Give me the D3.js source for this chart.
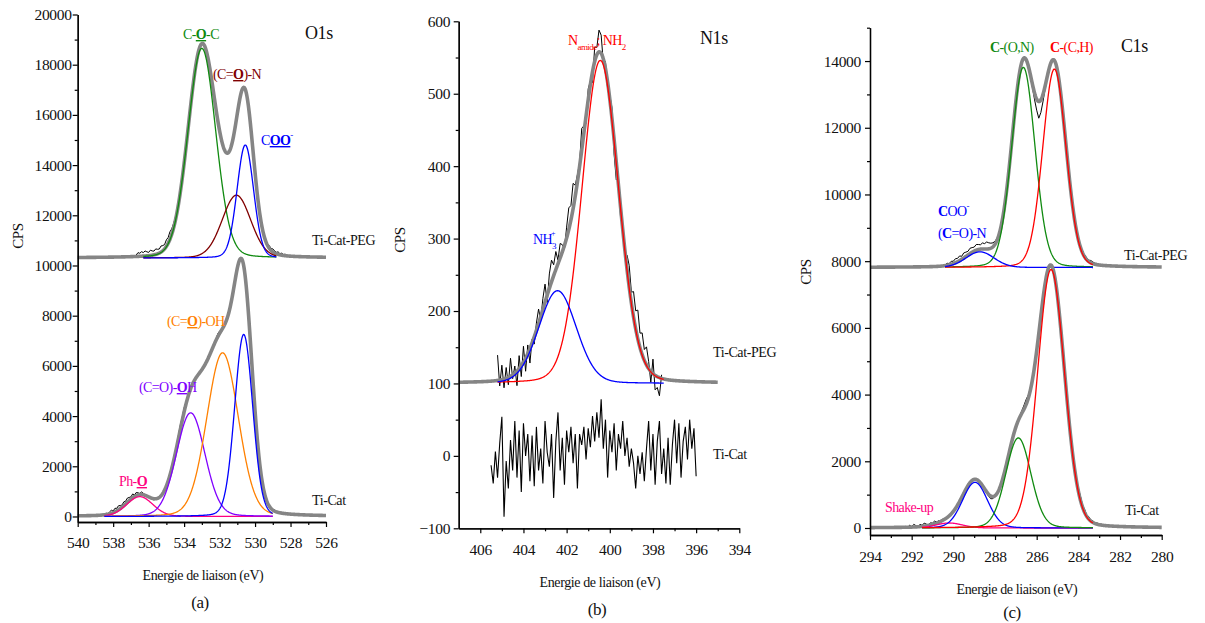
<!DOCTYPE html>
<html><head><meta charset="utf-8">
<script src="https://cdn.jsdelivr.net/npm/d3@7"></script>
<style>
body{margin:0;background:#fff}
svg{display:block}
text{font-family:"Liberation Serif","Times New Roman",serif}
</style>
</head><body>
<svg id="chart" width="1205" height="623"></svg>
<script>
// ================= DATA =================
// ---- Panel (a) O1s ----
const o1sEnergyTicks = [540,538,536,534,532,530,528,526];
const o1sEnergyMinor = [539,537,535,533,531,529,527];
const o1sCpsTicks = [0,2000,4000,6000,8000,10000,12000,14000,16000,18000,20000];
const o1sCpsMinor = [1000,3000,5000,7000,9000,11000,13000,15000,17000,19000];
// Ti-Cat-PEG components: C-O-C, (C=O)-N, COO-
const o1sPegBaseline = 10300;
const o1sPegCenters = [533.0, 531.05, 530.55];
const o1sPegHeights = [8350, 2500, 4500];
const o1sPegFwhm = [1.85, 1.9, 1.1];
const o1sPegResidualStart = 536.7;
const o1sPegResiduals = [60,150,120,180,140,200,160,130,210,170,150,220,180,160,240,200,170,260,230,300,220,180,120,
 80,40,-20,30,-30,20,40,-10,30,60,90,120,80,40,0,-40,-60,-30,-50,-20,0,30,-20,-60,-80,-40,-20,10,-10,20,40,60,20,-20,-40,-10,30,60,40,0,-30,20,40,-20,10,50,80,60,40,70,
 90,60,110,70,120,80,60,100,50,80,40,60,20];
// Ti-Cat components: Ph-O, (C=O)-OH (purple), (C=O)-OH (orange), COO- (blue)
const o1sCatBaseline = 0;
const o1sCatCenters = [536.5, 533.63, 531.83, 530.64];
const o1sCatHeights = [790, 4130, 6520, 7250];
const o1sCatFwhm = [1.75, 1.9, 2.1, 1.2];
const o1sCatResidualStart = 538.6;
const o1sCatResiduals = [40,-30,60,10,80,120,60,140,100,160,120,80,150,110,170,130,90,150,60,120,80,40,100,60,20,
 -20,40,-40,20,-60,30,-30,50,0,-40,20,-20,40,0,-30,60,20,90,140,180,120,160,80,40,0,
 -30,0,20,-10,10,0,-20,10,0,30,20,-10,0,10,60,120,90,40,0,-20,10,0,-10,0,20,
 0,-20,10,0,-10,20,0,-30,0,20,40,60,30,80,50,70,40,90,60,40,70,30,50,20,40,10,30,0,20,10];

// ---- Panel (b) N1s ----
const n1sEnergyTicks = [406,404,402,400,398,396,394];
const n1sEnergyMinor = [405,403,401,399,397,395];
const n1sCpsTicks = [-100,0,100,200,300,400,500,600];
const n1sCpsMinor = [-50,50,150,250,350,450,550];
// Ti-Cat-PEG components: N amide/NH2 (red), NH3+ (blue)
const n1sPegBaseline = 100;
const n1sPegCenters = [400.44, 402.42];
const n1sPegHeights = [446, 128];
const n1sPegFwhm = [2.0, 2.05];
const n1sPegResidualStart = 405.2;
const n1sPegResiduals = [35,-8,20,-12,15,-10,25,-5,10,-20,18,-15,22,-18,12,-20,5,-10,
 10,20,-5,15,25,-10,20,30,15,25,5,20,10,-5,15,30,20,35,15,10,
 5,30,10,-10,15,5,-15,20,10,30,25,-5,10,-10,5,15,-20,-25,10,-15,
 5,-10,20,30,15,35,25,40,20,30,15,25,10,-15,20,-20,-15,-25,5];
// Ti-Cat raw signal (no N1s peak), from 405.5 eV in 0.1 eV steps
const n1sCatStart = 405.5;
const n1sCatCps = [-13,-38,6,-30,17,54,-84,-7,-45,22,-20,48,-30,35,-50,45,0,30,-35,28,-42,40,-20,10,-38,48,5,-15,30,-58,
 20,60,-20,25,-40,35,5,40,-10,30,-45,30,15,40,-5,38,12,55,20,60,25,78,10,50,-30,35,5,45,-20,30,
 10,48,0,25,-15,10,-10,-45,0,-25,5,-35,10,48,-20,30,-40,20,48,-25,10,-38,25,-40,15,50,-10,45,-30,20,
 40,-5,50,10,38,-28];

// ---- Panel (c) C1s ----
const c1sEnergyTicks = [294,292,290,288,286,284,282,280];
const c1sEnergyMinor = [293,291,289,287,285,283,281];
const c1sCpsTicks = [0,2000,4000,6000,8000,10000,12000,14000];
const c1sCpsMinor = [1000,3000,5000,7000,9000,11000,13000,15000];
// Ti-Cat-PEG components: C-(O,N) green, C-(C,H) red, COO-/(C=O)-N blue
const c1sPegBaseline = 7810;
const c1sPegCenters = [286.64, 285.15, 288.72];
const c1sPegHeights = [6000, 5950, 470];
const c1sPegFwhm = [1.32, 1.32, 1.6];
const c1sPegResidualStart = 290.4;
const c1sPegResiduals = [20,60,40,90,70,120,100,140,90,150,130,110,160,140,120,170,150,130,180,160,210,180,150,120,90,60,40,20,10,0,
 -20,0,20,-10,10,30,0,-20,10,20,0,-40,-100,-200,-330,
 -500,-380,-220,-90,-20,
 0,20,-10,30,10,-20,0,10,-10,20,30,10,-20,0,20,40,30,60,50,40,70,50,30,40,20];
// Ti-Cat components: Shake-up pink, COO- blue, C-(O,N) green, C-(C,H) red
const c1sCatBaseline = 0;
const c1sCatCenters = [290.2, 288.96, 286.88, 285.31];
const c1sCatHeights = [150, 1370, 2700, 7750];
const c1sCatFwhm = [1.5, 1.42, 1.42, 1.52];
const c1sCatResidualStart = 292.3;
const c1sCatResiduals = [30,-20,60,10,80,40,-10,70,30,90,50,20,60,40,80,30,50,20,40,10,
 0,10,-10,20,0,-10,10,0,20,10,-10,0,10,-20,0,10,-10,0,-20,-40,
 -60,-80,-60,-20,40,20,0,-20,-30,0,40,60,20,-20,0,30,80,120,150,90,
 60,20,0,-30,0,20,-20,10,0,30,-10,20,0,-20,10,30,0,-30,-20,20,
 40,60,30,80,120,60,90,40,70,30,50,20,40,10,30,0,20];

// ================= DRAWING =================
const svg = d3.select("#chart");
const FONT = 15.5;

function peakShape(E, c, h, w){
  const d = (E - c) / w;
  return h * (0.9 * Math.exp(-4 * Math.LN2 * d * d) + 0.1 / (1 + 4 * d * d));
}
function envelopeAt(E, base, cs, hs, ws){
  let v = base;
  for (let i = 0; i < cs.length; i++) v += peakShape(E, cs[i], hs[i], ws[i]);
  return v;
}
function sampleRange(a, b, step){
  const lo = Math.min(a,b), hi = Math.max(a,b);
  return d3.range(lo, hi + step/2, step);
}

function drawAxes(g, x, y, cfg){
  const xAxis = d3.axisBottom(x).tickValues(cfg.xTicks).tickSize(5).tickSizeOuter(0).tickPadding(cfg.xPad).tickFormat(d3.format("d"));
  const xMinor = d3.axisBottom(x).tickValues(cfg.xMinor).tickSize(3).tickSizeOuter(0).tickFormat("");
  const yAxis = d3.axisLeft(y).tickValues(cfg.yTicks).tickSize(5).tickSizeOuter(0).tickPadding(cfg.yPad).tickFormat(d3.format("d"));
  const yMinor = d3.axisLeft(y).tickValues(cfg.yMinor).tickSize(3).tickSizeOuter(0).tickFormat("");
  const xg = g.append("g").attr("transform", `translate(0,${cfg.xAxisY})`);
  xg.call(xAxis); xg.append("g").call(xMinor);
  const yg = g.append("g").attr("transform", `translate(${cfg.yAxisX},0)`);
  yg.call(yAxis); yg.append("g").call(yMinor);
  [xg, yg].forEach(a => {
    a.attr("font-family", null);
    a.selectAll("path.domain").attr("stroke", "#000").attr("stroke-width", 1.3);
    a.selectAll("line").attr("stroke", "#000").attr("stroke-width", 1.2);
    a.selectAll("text").attr("font-size", FONT).attr("fill", "#111")
      .style("font-family", '"Liberation Serif", serif').style("letter-spacing", "-0.3px");
  });
}

function drawSpectrum(g, x, y, s){
  const line = d3.line().x(d => x(d[0])).y(d => y(d[1])).curve(d3.curveLinear);
  if (s.residuals){
    const raw = s.residuals.map((r, i) => {
      const E = s.resStart - i * 0.1;
      return [E, envelopeAt(E, s.base, s.cs, s.hs, s.ws) + r];
    });
    g.append("path").datum(raw).attr("d", line).attr("fill", "none").attr("stroke", "#000").attr("stroke-width", 1);
  }
  const envPts = sampleRange(s.envRange[0], s.envRange[1], 0.02).map(E => [E, envelopeAt(E, s.base, s.cs, s.hs, s.ws)]);
  g.append("path").datum(envPts).attr("d", line).attr("fill", "none").attr("stroke", "#858585").attr("stroke-width", 3.6).attr("stroke-linejoin","round");
  s.cs.forEach((c, i) => {
    const pts = sampleRange(s.compRange[0], s.compRange[1], 0.02).map(E => [E, s.base + peakShape(E, c, s.hs[i], s.ws[i])]);
    g.append("path").datum(pts).attr("d", line).attr("fill", "none").attr("stroke", s.colors[i]).attr("stroke-width", 1.3);
  });
}

function drawRaw(g, x, y, start, vals){
  const line = d3.line().x(d => x(d[0])).y(d => y(d[1]));
  const pts = vals.map((v, i) => [start - i * 0.1, v]);
  g.append("path").datum(pts).attr("d", line).attr("fill", "none").attr("stroke", "#000").attr("stroke-width", 1.1);
}

function rich(g, xPos, yPos, parts, color, size){
  const t = g.append("text").attr("x", xPos).attr("y", yPos).attr("fill", color)
    .attr("font-size", size).style("letter-spacing", "-0.6px");
  parts.forEach(p => {
    const s = t.append("tspan").text(p.t);
    if (p.b) s.attr("font-weight", "bold");
    if (p.u) s.attr("text-decoration", "underline");
    if (p.fs) s.attr("font-size", p.fs);
    if (p.dy) s.attr("dy", p.dy);
    if (p.dx) s.attr("dx", p.dx);
  });
  return t;
}
function plain(g, xPos, yPos, str, size, anchor, rot){
  const t = g.append("text").attr("x", xPos).attr("y", yPos).attr("fill", "#111")
    .attr("font-size", size).attr("text-anchor", anchor || "start").text(str).style("letter-spacing","-0.4px");
  if (rot) t.attr("transform", `rotate(-90,${xPos},${yPos})`);
  return t;
}

const GREEN = "#108a10", DARKRED = "#800000", BLUE = "#0000ff", ORANGE = "#ff8000",
      PURPLE = "#8000ff", PINK = "#ff0080", RED = "#ff0000";

// ---------- Panel (a) ----------
{
  const g = svg.append("g");
  const x = d3.scaleLinear().domain([540, 526]).range([77.7, 326]);
  const y = d3.scaleLinear().domain([-220, 20000]).range([522, 14.5]);
  drawSpectrum(g, x, y, {base: o1sPegBaseline, cs: o1sPegCenters, hs: o1sPegHeights, ws: o1sPegFwhm,
    colors: [GREEN, DARKRED, BLUE], envRange: [540, 526], compRange: [536.3, 528.8],
    resStart: o1sPegResidualStart, residuals: o1sPegResiduals});
  drawSpectrum(g, x, y, {base: o1sCatBaseline, cs: o1sCatCenters, hs: o1sCatHeights, ws: o1sCatFwhm,
    colors: [PINK, PURPLE, ORANGE, BLUE], envRange: [540, 526], compRange: [538.5, 529.0],
    resStart: o1sCatResidualStart, residuals: o1sCatResiduals});
  drawAxes(g, x, y, {xTicks: o1sEnergyTicks, xMinor: o1sEnergyMinor, yTicks: o1sCpsTicks, yMinor: o1sCpsMinor,
    xAxisY: 522, yAxisX: 77.7, xPad: 10, yPad: 1});
  plain(g, 305, 39, "O1s", 18);
  rich(g, 183, 39, [{t:"C-"},{t:"O",b:1,u:1},{t:"-C"}], GREEN, 14);
  rich(g, 213, 79, [{t:"(C="},{t:"O",b:1,u:1},{t:")-N"}], DARKRED, 14);
  rich(g, 261, 145, [{t:"C"},{t:"OO",b:1,u:1},{t:"-",fs:9,dy:-7}], BLUE, 14);
  plain(g, 312, 245, "Ti-Cat-PEG", 14);
  rich(g, 167, 326, [{t:"(C="},{t:"O",b:1,u:1},{t:")-OH"}], ORANGE, 14);
  rich(g, 139, 392, [{t:"(C=O)-"},{t:"O",b:1,u:1},{t:"H"}], PURPLE, 14);
  rich(g, 119, 486, [{t:"Ph-"},{t:"O",b:1,u:1}], PINK, 14);
  plain(g, 312, 505, "Ti-Cat", 14);
  plain(g, 203, 580, "Energie de liaison (eV)", 14, "middle");
  plain(g, 200, 608, "(a)", 17, "middle");
  plain(g, 23, 236, "CPS", 15, "middle", true);
}

// ---------- Panel (b) ----------
{
  const g = svg.append("g");
  const x = d3.scaleLinear().domain([407, 394]).range([458.7, 739.3]);
  const y = d3.scaleLinear().domain([-100, 600]).range([528.3, 21.3]);
  drawRaw(g, x, y, n1sCatStart, n1sCatCps);
  drawSpectrum(g, x, y, {base: n1sPegBaseline, cs: n1sPegCenters, hs: n1sPegHeights, ws: n1sPegFwhm,
    colors: [RED, BLUE], envRange: [407, 395], compRange: [405.2, 397.5],
    resStart: n1sPegResidualStart, residuals: n1sPegResiduals});
  drawAxes(g, x, y, {xTicks: n1sEnergyTicks, xMinor: n1sEnergyMinor, yTicks: n1sCpsTicks, yMinor: n1sCpsMinor,
    xAxisY: 528.3, yAxisX: 458.7, xPad: 11, yPad: 3.5});
  plain(g, 700, 44, "N1s", 18);
  rich(g, 568, 45, [{t:"N"},{t:"amide",fs:9,dy:5},{t:"; NH",dy:-5},{t:"2",fs:9,dy:5}], RED, 14);
  rich(g, 533, 244, [{t:"NH"},{t:"3",fs:9,dy:5},{t:"+",fs:8,dy:-13,dx:-5}], BLUE, 14);
  plain(g, 713, 357, "Ti-Cat-PEG", 14);
  plain(g, 713, 459, "Ti-Cat", 14);
  plain(g, 600, 587, "Energie de liaison (eV)", 14, "middle");
  plain(g, 597, 615, "(b)", 17, "middle");
  plain(g, 405, 240, "CPS", 15, "middle", true);
}

// ---------- Panel (c) ----------
{
  const g = svg.append("g");
  const x = d3.scaleLinear().domain([294, 280]).range([870, 1161.7]);
  const y = d3.scaleLinear().domain([-210, 15000]).range([535, 27.7]);
  drawSpectrum(g, x, y, {base: c1sPegBaseline, cs: c1sPegCenters, hs: c1sPegHeights, ws: c1sPegFwhm,
    colors: [GREEN, RED, BLUE], envRange: [294, 280], compRange: [290.4, 283.3],
    resStart: c1sPegResidualStart, residuals: c1sPegResiduals});
  drawSpectrum(g, x, y, {base: c1sCatBaseline, cs: c1sCatCenters, hs: c1sCatHeights, ws: c1sCatFwhm,
    colors: [PINK, BLUE, GREEN, RED], envRange: [294, 280], compRange: [291.5, 283.3],
    resStart: c1sCatResidualStart, residuals: c1sCatResiduals});
  drawAxes(g, x, y, {xTicks: c1sEnergyTicks, xMinor: c1sEnergyMinor, yTicks: c1sCpsTicks, yMinor: c1sCpsMinor,
    xAxisY: 535, yAxisX: 870, xPad: 11, yPad: 4});
  plain(g, 1121, 52, "C1s", 18);
  rich(g, 990, 52, [{t:"C",b:1},{t:"-(O,N)"}], GREEN, 14);
  rich(g, 1050, 52, [{t:"C",b:1},{t:"-(C,H)"}], RED, 14);
  rich(g, 938, 216, [{t:"C",b:1},{t:"OO"},{t:"-",fs:9,dy:-7}], BLUE, 14);
  rich(g, 938, 238, [{t:"("},{t:"C",b:1},{t:"=O)-N"}], BLUE, 14);
  plain(g, 1124, 260, "Ti-Cat-PEG", 14);
  rich(g, 885, 512, [{t:"Shake-up"}], PINK, 14);
  plain(g, 1125, 515, "Ti-Cat", 14);
  plain(g, 1017, 594, "Energie de liaison (eV)", 14, "middle");
  plain(g, 1012, 618, "(c)", 17, "middle");
  plain(g, 811, 272, "CPS", 15, "middle", true);
}
</script>
</body></html>
